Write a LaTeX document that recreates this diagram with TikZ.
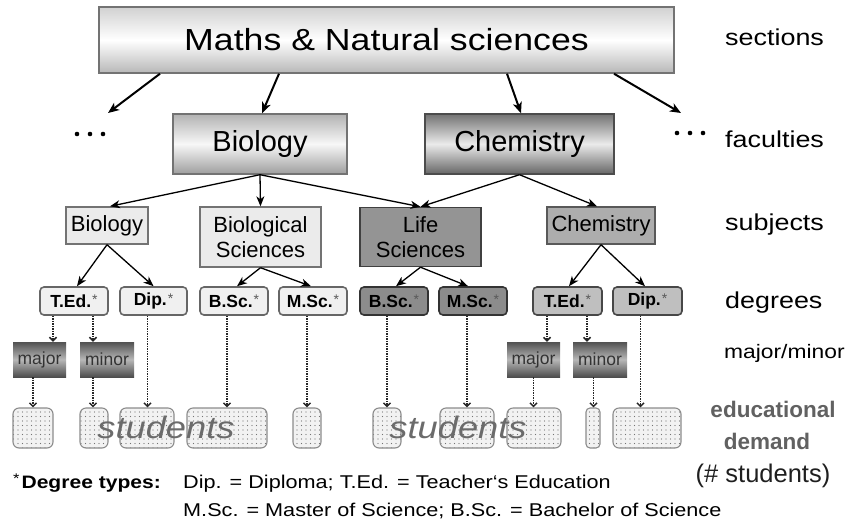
\documentclass[tikz,border=0pt]{standalone}
\usepackage{fontspec}
\setmainfont{Liberation Sans}
\newfontfamily\widefont[FakeStretch=1.17]{Liberation Sans}
\usetikzlibrary{arrows.meta,patterns.meta,calc}

\newcommand\fsz[1]{\fontsize{#1}{#1}\selectfont}
\newcommand\degstar{\hspace{1pt}\raisebox{2.5pt}{\fsz{14}\mdseries\textcolor{black!65}{*}}}

\begin{document}
\begin{tikzpicture}[x=1pt,y=-1pt,
  every node/.style={inner sep=0pt},
  box/.style={draw, align=center, line width=1.4pt},
  sectionbox/.style={box, draw=black!55, top color=black!18, bottom color=black!28, middle color=white},
  facultybio/.style={box, draw=black!55, top color=black!30, bottom color=black!38, middle color=black!3},
  facultychem/.style={box, draw=black!70, top color=black!55, bottom color=black!60, middle color=black!8},
  subjlight/.style={box, draw=black!55, fill=black!8},
  subjdark/.style={box, draw=black!75, fill=black!42},
  subjmid/.style={box, draw=black!65, fill=black!32},
  twoline/.style={font=\fontsize{22}{25}\selectfont},
  degbox/.style={box, rounded corners=4pt, line width=1.6pt, font=\fsz{17.5}\bfseries},
  deglight/.style={degbox, draw=black!60, fill=black!6},
  degdark/.style={degbox, draw=black!80, fill=black!45},
  degmid/.style={degbox, draw=black!72, fill=black!25},
  mmbox/.style={top color=black!68, bottom color=black!70, middle color=black!28, font=\fsz{17.5}, text=black!80},
  studbox/.style={draw=black!45, line width=1.1pt, rounded corners=6pt,
    preaction={fill=black!5}, pattern={Dots[distance=4.5pt,radius=0.7pt]}, pattern color=black!55},
  studtext/.style={font=\widefont\fsz{31}\itshape, text=black!58, anchor=base},
  rlabel/.style={font=\widefont\fsz{23}, anchor=base west},
  bigarrow/.style={line width=2pt, -{Stealth[length=11pt,width=9pt,inset=3pt]}},
  arrow/.style={line width=1.3pt, -{Stealth[length=10pt,width=8pt,inset=3pt]}},
  dotarrow/.style={densely dotted, line width=1.5pt, draw=black!85, -{Straight Barb[length=3.5pt,width=7pt]}},
  dotmark/.style={fill=black, circle, minimum size=4.6pt}
]
\useasboundingbox (0,0) rectangle (848,520);

% section
\node[sectionbox, minimum width=575pt, minimum height=66pt] (top) at (386.5,40)
  {\widefont\fsz{30.5}Maths \& Natural sciences};

% faculties
\node[facultybio, minimum width=174pt, minimum height=60pt] (bioF) at (260,144) {\fsz{29}Biology};
\node[facultychem, minimum width=189pt, minimum height=60pt] (chemF) at (519.5,144) {\fsz{29}Chemistry};

% further faculties
\coordinate (dotsLtip) at (108,113);
\coordinate (dotsRtip) at (681,113);
\node[dotmark] (dl1) at (77,134) {};
\node[dotmark] (dl2) at (90,134) {};
\node[dotmark] (dl3) at (103,134) {};
\node[dotmark] (dr1) at (677,133) {};
\node[dotmark] (dr2) at (690,133) {};
\node[dotmark] (dr3) at (703,133) {};

% subjects
\node[subjlight, minimum width=82pt, minimum height=37pt] (bioS) at (107,225.5) {\fsz{22}Biology};
\node[subjlight, twoline, minimum width=121pt, minimum height=60pt] (biolS) at (260.5,237)
  {Biological\\Sciences};
\node[subjdark, twoline, minimum width=121pt, minimum height=59pt] (lifeS) at (420.5,237)
  {Life\\Sciences};
\node[subjmid, minimum width=108pt, minimum height=37pt] (chemS) at (601,225.5) {\fsz{22}Chemistry};

% degrees
\node[deglight, minimum width=68pt, minimum height=28pt] (ted1) at (74,301) {T.Ed.\degstar};
\node[deglight, minimum width=67pt, minimum height=28pt] (dip1) at (153.5,301) {Dip.\degstar};
\node[deglight, minimum width=68pt, minimum height=28pt] (bsc1) at (234,301) {B.Sc.\degstar};
\node[deglight, minimum width=68pt, minimum height=28pt] (msc1) at (313,301) {M.Sc.\degstar};
\node[degdark, minimum width=68pt, minimum height=28pt] (bsc2) at (394,301) {B.Sc.\degstar};
\node[degdark, minimum width=68pt, minimum height=28pt] (msc2) at (473,301) {M.Sc.\degstar};
\node[degmid, minimum width=69pt, minimum height=28pt] (ted2) at (567.5,301) {T.Ed.\degstar};
\node[degmid, minimum width=69pt, minimum height=28pt] (dip2) at (647.5,301) {Dip.\degstar};

% major / minor
\node[mmbox, minimum width=53pt, minimum height=35pt] (maj1) at (39.5,359.5) {major};
\node[mmbox, minimum width=54pt, minimum height=35pt] (min1) at (107,359.5) {minor};
\node[mmbox, minimum width=53pt, minimum height=35pt] (maj2) at (533.5,359.5) {major};
\node[mmbox, minimum width=54pt, minimum height=35pt] (min2) at (600,359.5) {minor};

% educational demand
\node[studbox, minimum width=40pt, minimum height=40pt] (s1) at (33,428) {};
\node[studbox, minimum width=28pt, minimum height=40pt] (s2) at (94,428) {};
\node[studbox, minimum width=54pt, minimum height=40pt] (s3) at (147,428) {};
\node[studbox, minimum width=80pt, minimum height=40pt] (s4) at (227,428) {};
\node[studbox, minimum width=28pt, minimum height=40pt] (s5) at (307,428) {};
\node[studbox, minimum width=28pt, minimum height=40pt] (s6) at (387,428) {};
\node[studbox, minimum width=54pt, minimum height=40pt] (s7) at (467,428) {};
\node[studbox, minimum width=54pt, minimum height=40pt] (s8) at (534,428) {};
\node[studbox, minimum width=14pt, minimum height=40pt, rounded corners=4pt] (s9) at (593,428) {};
\node[studbox, minimum width=68pt, minimum height=40pt] (s10) at (647,428) {};

\node[studtext] (stud1) at (166,438) {students};
\node[studtext] (stud2) at (458,438) {students};

% section -> faculties
\draw[bigarrow] (top.south -| 160,0) -- (dotsLtip);
\draw[bigarrow] (top.south -| 279,0) -- (bioF.north -| 262,0);
\draw[bigarrow] (top.south -| 507,0) -- (chemF.north -| 521,0);
\draw[bigarrow] (top.south -| 614,0) -- (dotsRtip);

% faculties -> subjects
\draw[arrow] (bioF.south) -- (bioS.north -| 110,0);
\draw[arrow] (bioF.south) -- (biolS.north);
\draw[arrow] (bioF.south) -- (lifeS.north);
\draw[arrow] (chemF.south) -- (lifeS.north);
\draw[arrow] (chemF.south) -- (chemS.north -| 597,0);

% subjects -> degrees
\draw[arrow] (bioS.south) -- (ted1.north -| 77,0);
\draw[arrow] (bioS.south) -- (dip1.north);
\draw[arrow] (biolS.south) -- (bsc1.north -| 237,0);
\draw[arrow] (biolS.south) -- (msc1.north -| 311,0);
\draw[arrow] (lifeS.south) -- (bsc2.north -| 396,0);
\draw[arrow] (lifeS.south) -- (msc2.north -| 468,0);
\draw[arrow] (chemS.south) -- (ted2.north -| 569,0);
\draw[arrow] (chemS.south) -- (dip2.north -| 645,0);

% degrees -> major/minor -> demand
\draw[dotarrow] (ted1.south -| 53,0) -- (maj1.north -| 53,0);
\draw[dotarrow] (ted1.south -| 93,0) -- (min1.north -| 93,0);
\draw[dotarrow] (maj1.south -| 33,0) -- (s1.north);
\draw[dotarrow] (min1.south -| 93,0) -- (s2.north -| 93,0);
\draw[dotarrow] (dip1.south -| 147.5,0) -- (s3.north -| 147.5,0);
\draw[dotarrow] (bsc1.south -| 227,0) -- (s4.north);
\draw[dotarrow] (msc1.south -| 307,0) -- (s5.north);
\draw[dotarrow] (bsc2.south -| 387,0) -- (s6.north);
\draw[dotarrow] (msc2.south -| 467,0) -- (s7.north);
\draw[dotarrow] (ted2.south -| 547,0) -- (maj2.north -| 547,0);
\draw[dotarrow] (ted2.south -| 587,0) -- (min2.north -| 587,0);
\draw[dotarrow] (maj2.south -| 533.5,0) -- (s8.north -| 533.5,0);
\draw[dotarrow] (min2.south -| 593.5,0) -- (s9.north -| 593.5,0);
\draw[dotarrow] (dip2.south -| 640.5,0) -- (s10.north -| 640.5,0);

% level labels
\node[rlabel] (lsec) at (725,45) {sections};
\node[rlabel] (lfac) at (725,147) {faculties};
\node[rlabel] (lsub) at (725,230) {subjects};
\node[rlabel] (ldeg) at (725,308) {degrees};
\node[rlabel, font=\widefont\fsz{19.5}] (lmm) at (724,358) {major/minor};
\node[anchor=base, font=\fsz{22.5}\bfseries, text=black!62] (ledu1) at (773,417) {educational};
\node[anchor=base, font=\fsz{22.5}\bfseries, text=black!62] (ledu2) at (767,449) {demand};
\node[anchor=base, font=\fsz{25.5}, text=black!88] (ledu3) at (763,482) {(\# students)};

% footnote
\node[anchor=base west, font=\widefont\fsz{18}\bfseries] (fnhead) at (13,488)
  {\raisebox{5pt}{\fsz{14}\mdseries *}\hspace{2pt}Degree types:};
\node[anchor=base west, font=\widefont\fsz{18.5}] (fn1) at (183,488)
  {Dip. = Diploma; T.Ed. = Teacher‘s Education};
\node[anchor=base west, font=\widefont\fsz{18.5}] (fn2) at (183,516)
  {M.Sc. = Master of Science; B.Sc. = Bachelor of Science};
\end{tikzpicture}
\end{document}
